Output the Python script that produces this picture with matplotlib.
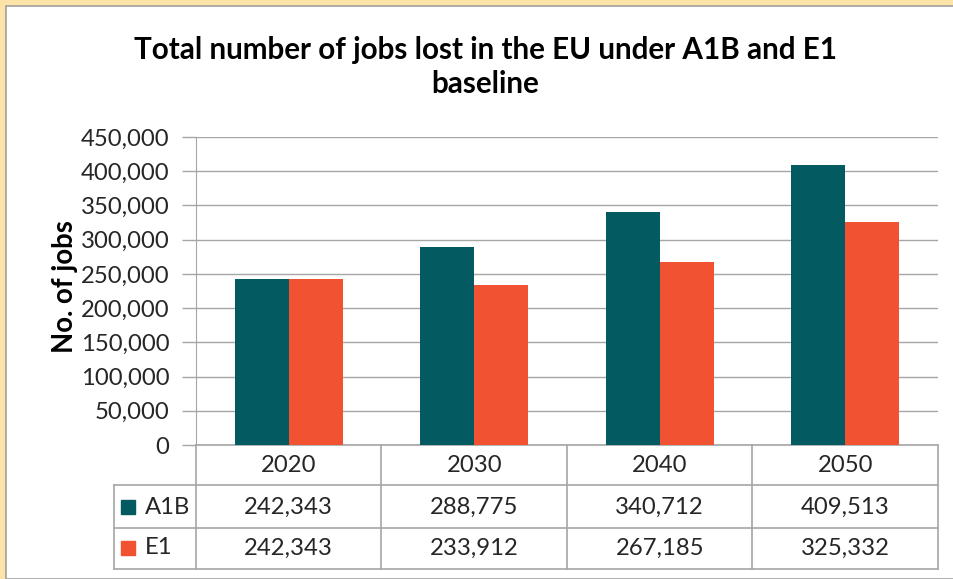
import numpy as np
import matplotlib.pyplot as plt
from matplotlib.patches import Rectangle
from matplotlib.lines import Line2D

years = ["2020", "2030", "2040", "2050"]
a1b = [242343, 288775, 340712, 409513]
e1 = [242343, 233912, 267185, 325332]
series_names = ["A1B", "E1"]
yticks = [0, 50000, 100000, 150000, 200000, 250000, 300000, 350000, 400000, 450000]

teal = "#045a61"
orange = "#f05232"
grid_col = "#a6a6a6"
txt_col = "#262626"
plt.rcParams["font.family"] = ["Lato", "DejaVu Sans"]

W, H = 954, 579
fig = plt.figure(figsize=(W / 100, H / 100), dpi=100, facecolor="#fce4a8")

# white chart area with a thin grey frame
fig.patches.append(Rectangle((6 / W, 0), 1, 1 - 6 / H, transform=fig.transFigure,
                             facecolor="white", edgecolor="#a0a0a0", lw=1.2, zorder=-10))

left, right, top, bottom = 196, 938, 137, 445
ax = fig.add_axes([left / W, 1 - bottom / H, (right - left) / W, (bottom - top) / H])
ax.set_facecolor("none")

x = np.arange(len(years))
w = 0.29
ax.bar(x - w / 2, a1b, w, color=teal, zorder=3)
ax.bar(x + w / 2, e1, w, color=orange, zorder=3)

ax.set_xlim(-0.5, 3.5)
ax.set_ylim(0, 450000)
ax.set_yticks(yticks)
ax.set_yticklabels([f"{v:,}" for v in yticks], fontsize=17.2, color=txt_col)
ax.tick_params(axis="y", length=10, width=1, color=grid_col, pad=9)
ax.set_xticks([])
ax.grid(axis="y", color=grid_col, lw=1, zorder=0)
for s in ["top", "right", "bottom"]:
    ax.spines[s].set_visible(False)
ax.spines["left"].set_color(grid_col)
ax.spines["left"].set_zorder(4)

fig.text(485 / W, 1 - 67 / H, "Total number of jobs lost in the EU under A1B and E1\nbaseline",
         ha="center", va="center", fontsize=21.3, fontweight="bold", linespacing=1.25)
fig.text(65 / W, 1 - 287 / H, "No. of jobs", rotation=90, ha="center", va="center",
         fontsize=19.8, fontweight="bold")

# data table under the axis
ph = bottom - top
def ay(py):
    return (bottom - py) / ph

tr = ax.get_xaxis_transform()
row_lines = [485, 528, 569]
leg_left = -0.5 - (left - 114) / ((right - left) / 4)
lc = dict(color=grid_col, lw=1.2, transform=tr, clip_on=False)
ax.add_line(Line2D([-0.5, 3.5], [0, 0], **lc))
for ry in row_lines:
    ax.add_line(Line2D([leg_left, 3.5], [ay(ry), ay(ry)], **lc))
for cx in [-0.5, 0.5, 1.5, 2.5, 3.5]:
    ax.add_line(Line2D([cx, cx], [0, ay(569)], **lc))
ax.add_line(Line2D([leg_left, leg_left], [ay(485), ay(569)], **lc))

tk = dict(transform=tr, ha="center", va="center", fontsize=17.2, color=txt_col, clip_on=False)
for i, yr in enumerate(years):
    ax.text(x[i], ay(465), yr, **tk)
    ax.text(x[i], ay(507), f"{a1b[i]:,}", **tk)
    ax.text(x[i], ay(548), f"{e1[i]:,}", **tk)

for name, col, ry in zip(series_names, [teal, orange], [507, 548]):
    ax.plot([leg_left + 0.075], [ay(ry)], marker="s", ms=10, color=col,
            transform=tr, clip_on=False)
    ax.text(leg_left + 0.165, ay(ry), name, transform=tr, ha="left", va="center",
            fontsize=17.2, color=txt_col, clip_on=False)

fig.savefig("out.png", dpi=100, facecolor=fig.get_facecolor())
